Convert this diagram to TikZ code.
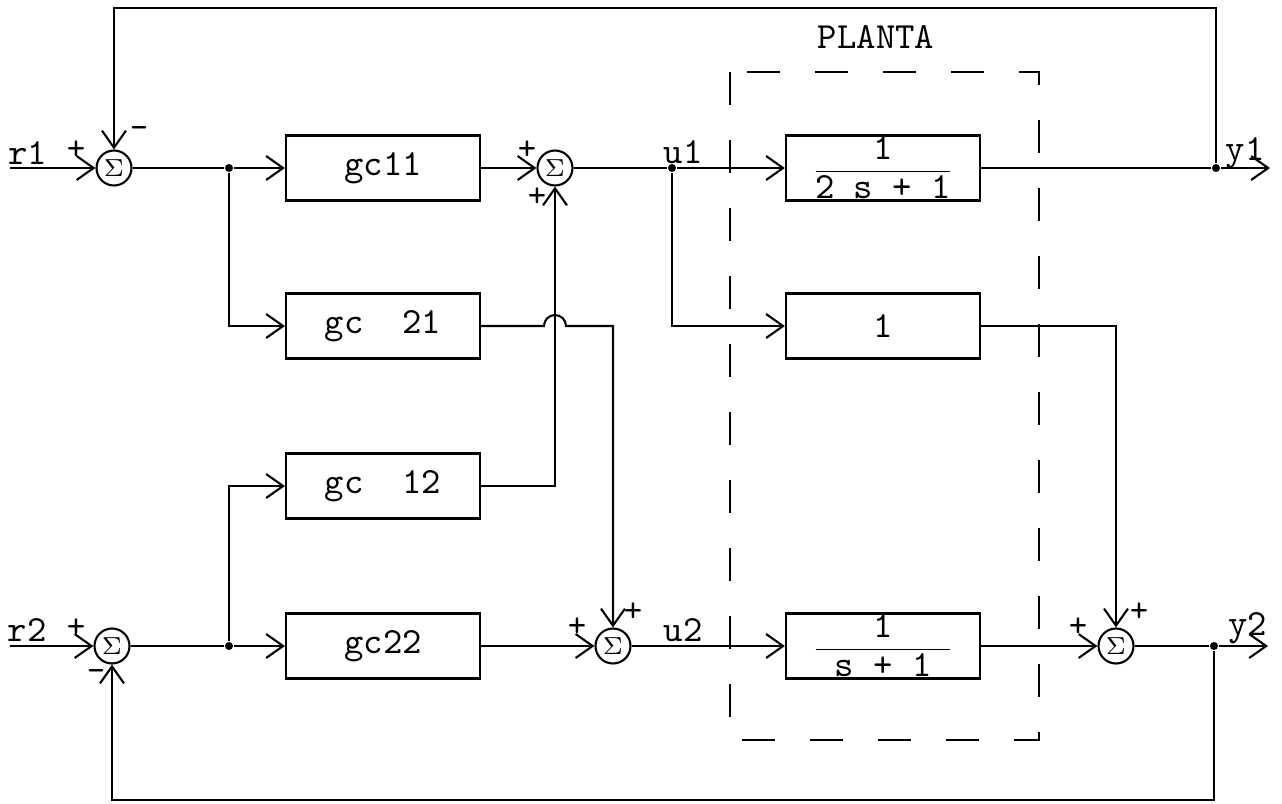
\documentclass[tikz,border=0pt]{standalone}
\usepackage{amsmath}
\usepackage{tikz}
\usetikzlibrary{arrows.meta,positioning}

\begin{document}
\begin{tikzpicture}[x=0.1mm, y=-0.1mm, line width=0.6pt,
  >={Straight Barb[length=1.7mm,width=2.4mm]},
  font=\fontsize{10.5}{12}\ttfamily,
  blk/.style={draw, minimum width=19.4mm, minimum height=6.5mm, inner sep=0pt},
  frac/.style={blk, align=center, font=\fontsize{10.5}{3.5}\ttfamily},
  sumnode/.style={draw, circle, minimum size=3.5mm, inner sep=0pt, font=\fontsize{7}{8}\selectfont},
  jdot/.style={circle, fill, inner sep=0pt, minimum size=0.8mm},
  sgn/.style={inner sep=0pt, font=\fontsize{10}{12}\ttfamily}]

\useasboundingbox (0,0) rectangle (1282,804);

% summing junctions
\node[sumnode] (er1) at (114,168) {$\Sigma$};
\node[sumnode] (su1) at (555,168) {$\Sigma$};
\node[sumnode] (er2) at (112,646) {$\Sigma$};
\node[sumnode] (su2) at (613,646) {$\Sigma$};
\node[sumnode] (sy2) at (1116,646) {$\Sigma$};

% controller
\node[blk] (gc11) at (383,168) {gc11};
\node[blk] (gc21) at (383,326) {gc~~21};
\node[blk] (gc12) at (383,486) {gc~~12};
\node[blk] (gc22) at (383,646) {gc22};

% plant
\draw[dash pattern=on 3.3mm off 3.5mm] (730,72) rectangle (1039,740);
\node (planta) at (876,37) {PLANTA};
\node[frac] (p11) at (883,168) {1\\\rule{13.5mm}{0.5pt}\\2 s + 1};
\node[blk] (p21) at (883,326) {1};
\node[frac] (p22) at (883,646) {1\\\rule{13.5mm}{0.5pt}\\s + 1};

% branch points
\node[jdot] (j1) at (229,168) {};
\node[jdot] (j2) at (229,646) {};
\node[jdot] (ju1) at (672,168) {};
\node[jdot] (jy1) at (1216,168) {};
\node[jdot] (jy2) at (1214,646) {};

\coordinate (r1in) at (10,168);
\coordinate (r2in) at (10,646);
\coordinate (y1out) at (1270,168);
\coordinate (y2out) at (1268,646);
\coordinate (topR) at (1216,8);
\coordinate (topL) at (114,8);
\coordinate (botR) at (1214,800);
\coordinate (botL) at (112,800);
\coordinate (hop) at (555,326);

% upper loop
\draw[->] (r1in) -- (er1);
\draw (er1) -- (j1);
\draw[->] (j1) -- (gc11);
\draw[->] (j1) |- (gc21);
\draw[->] (gc11) -- (su1);
\draw (su1) -- (ju1);
\draw[->] (ju1) -- (p11);
\draw[->] (ju1) |- (p21);
\draw (p11) -- (jy1);
\draw[->] (jy1) -- (y1out);
\draw[->] (jy1) -- (topR) -- (topL) -- (er1);

% cross couplings
\draw[->] (gc12) -| (su1);
\draw[->] (gc21) -- ([xshift=-1.1mm]hop) arc[start angle=180, end angle=0, radius=1.1mm] -| (su2);

% lower loop
\draw[->] (r2in) -- (er2);
\draw (er2) -- (j2);
\draw[->] (j2) -- (gc22);
\draw[->] (j2) |- (gc12);
\draw[->] (gc22) -- (su2);
\draw[->] (su2) -- (p22);
\draw[->] (p22) -- (sy2);
\draw[->] (p21) -| (sy2);
\draw (sy2) -- (jy2);
\draw[->] (jy2) -- (y2out);
\draw[->] (jy2) -- (botR) -- (botL) -- (er2);

% signals and signs
\node (lr1) at (28,153) {r1};
\node[sgn] (pr1) at (76,150) {+};
\node[sgn] (mr1) at (139,133) {-};
\node[sgn] (p1a) at (527,150) {+};
\node[sgn] (p1b) at (537,197) {+};
\node (lu1) at (683,152) {u1};
\node (ly1) at (1245,153) {y1};
\node (lr2) at (27,630) {r2};
\node[sgn] (pr2) at (76,628) {+};
\node[sgn] (mr2) at (96,675) {-};
\node[sgn] (p2a) at (577,627) {+};
\node[sgn] (p2b) at (633,612) {+};
\node (lu2) at (683,630) {u2};
\node[sgn] (p3a) at (1078,627) {+};
\node[sgn] (p3b) at (1139,612) {+};
\node (ly2) at (1248,628) {y2};
\end{tikzpicture}
\end{document}
